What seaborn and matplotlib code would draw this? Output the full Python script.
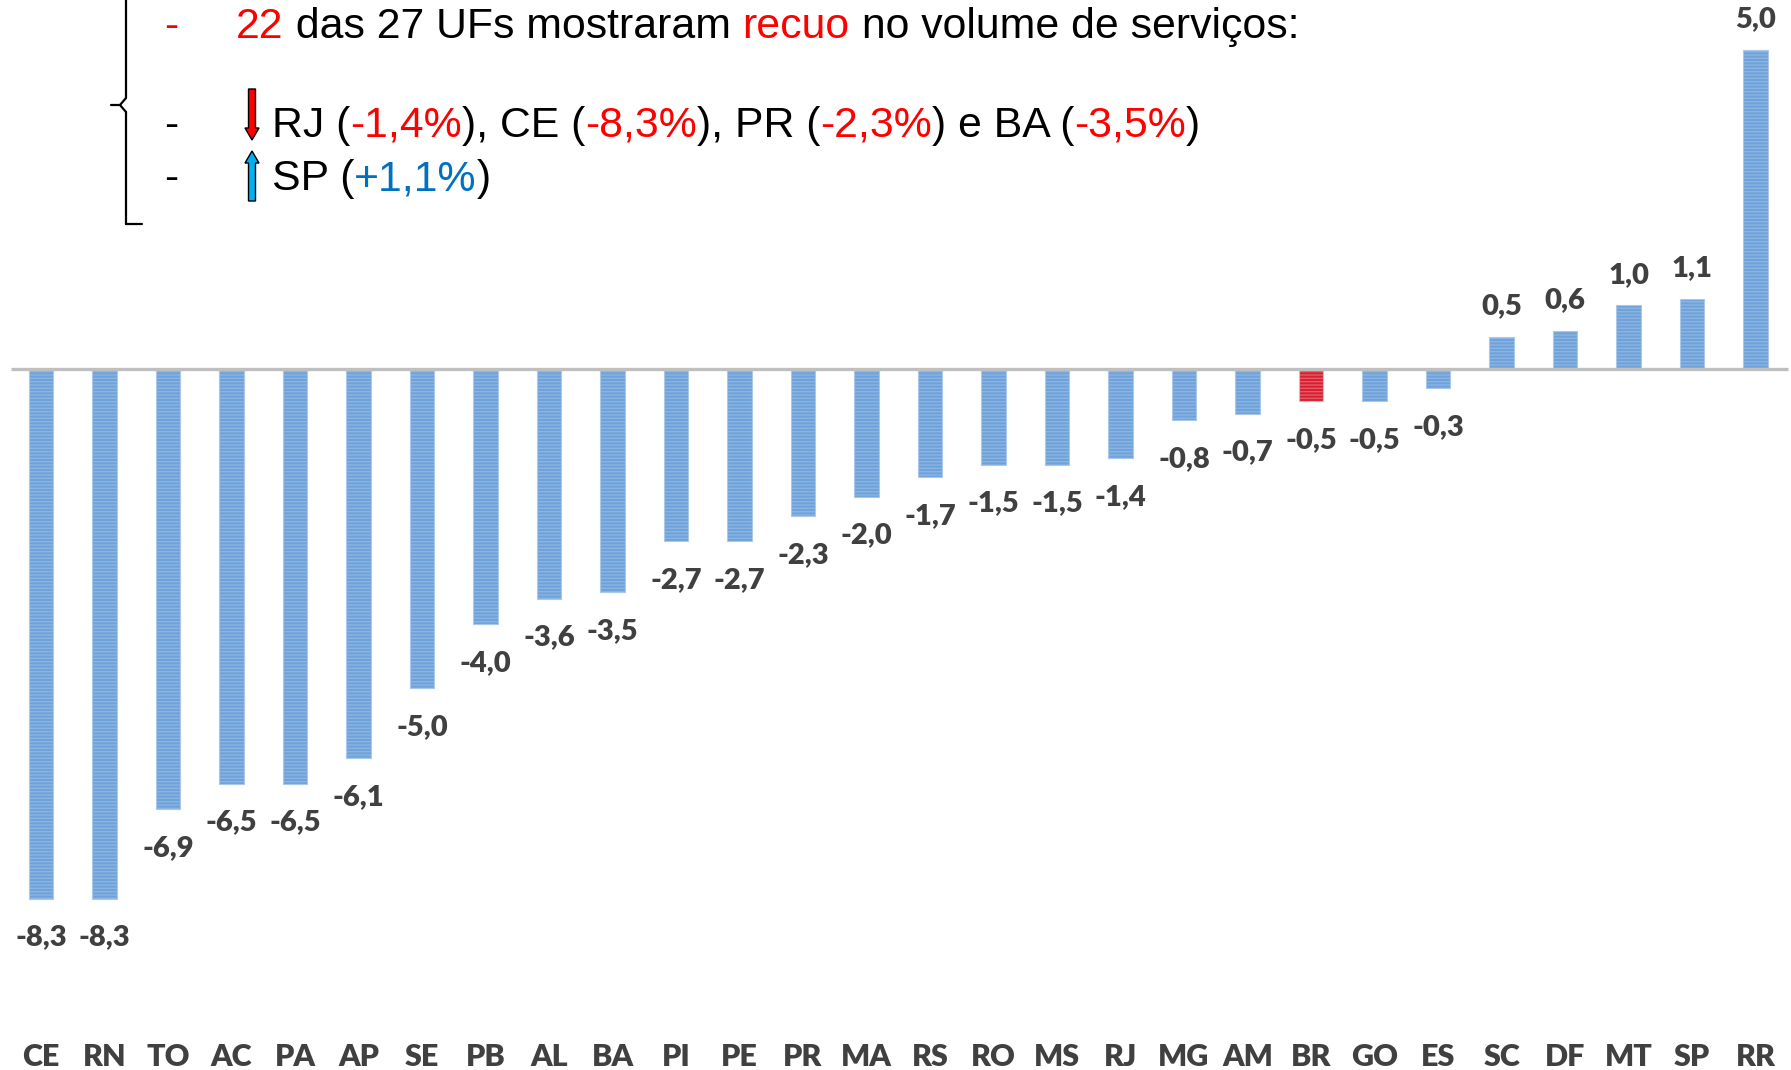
import matplotlib
matplotlib.use("Agg")
import matplotlib.pyplot as plt
import seaborn as sns
import pandas as pd
from matplotlib.patches import FancyArrow

ufs = ["CE", "RN", "TO", "AC", "PA", "AP", "SE", "PB", "AL", "BA", "PI", "PE", "PR", "MA",
       "RS", "RO", "MS", "RJ", "MG", "AM", "BR", "GO", "ES", "SC", "DF", "MT", "SP", "RR"]
valores = [-8.3, -8.3, -6.9, -6.5, -6.5, -6.1, -5.0, -4.0, -3.6, -3.5, -2.7, -2.7, -2.3, -2.0,
           -1.7, -1.5, -1.5, -1.4, -0.8, -0.7, -0.5, -0.5, -0.3, 0.5, 0.6, 1.0, 1.1, 5.0]

BLUE = "#6FA2DA"
RED = "#D7202F"
LABEL = "#404040"

sns.set_theme(style="white")
plt.rcParams["font.family"] = ["Lato", "DejaVu Sans"]

W, H = 1791, 1070
fig = plt.figure(figsize=(W / 100, H / 100), dpi=100)

ax_bottom_px = 35
ax = fig.add_axes([0, ax_bottom_px / H, 1, (H - ax_bottom_px) / H])

df = pd.DataFrame({"uf": ufs, "valor": valores})
palette = {u: (RED if u == "BR" else BLUE) for u in ufs}
sns.barplot(data=df, x="uf", y="valor", hue="uf", palette=palette, order=ufs,
            width=0.39, legend=False, ax=ax, saturation=1,
            edgecolor="#A9C8EA", linewidth=0.8)
for p in ax.patches:
    p.set_hatch("-----")
    p._hatch_color = matplotlib.colors.to_rgba("#8AB4E2" if p.get_facecolor()[0] < 0.6 else "#E65A66")

px_per_unit = 63.8
base_px = 369
x0_px, dx_px = 41, 63.5
ax.set_ylim((base_px - (H - ax_bottom_px)) / px_per_unit, base_px / px_per_unit)
ax.set_xlim(-x0_px / dx_px, (W - x0_px) / dx_px)

ax.plot([(11 - x0_px) / dx_px, (1788 - x0_px) / dx_px], [0, 0], color="#BFBFBF",
        lw=2.4, solid_capstyle="butt", zorder=3)

for i, v in enumerate(valores):
    txt = f"{v:.1f}".replace(".", ",")
    off = 22 if v > 0 else -28
    ax.annotate(txt, (i, v), xytext=(0, off), textcoords="offset points",
                ha="center", va="center", fontsize=21, fontweight="heavy", color=LABEL)

ax.set_xlabel("")
ax.set_ylabel("")
ax.set_yticks([])
ax.tick_params(axis="x", length=0, pad=6, labelsize=22, labelcolor=LABEL)
for t in ax.get_xticklabels():
    t.set_fontweight("heavy")
for s in ax.spines.values():
    s.set_visible(False)

ov = fig.add_axes([0, 0, 1, 1], facecolor="none")
ov.set_xlim(0, W)
ov.set_ylim(H, 0)
ov.axis("off")

# brace
ov.plot([126, 126], [0, 98], color="black", lw=1.6)
ov.plot([126, 126], [112, 224], color="black", lw=1.6)
ov.plot([126, 142], [224, 224], color="black", lw=1.6)
ov.plot([111, 120, 126], [105, 105, 98], color="black", lw=1.6)
ov.plot([120, 126], [105, 112], color="black", lw=1.6)

FS = 30.8
TF = ["Liberation Sans", "DejaVu Sans"]
renderer = fig.canvas.get_renderer()


def runs(x, y, parts):
    for s, c in parts:
        t = ov.text(x, y, s, color=c, fontsize=FS, family=TF, va="center", ha="left")
        bb = t.get_window_extent(renderer=renderer)
        x += bb.width


y1, y2, y3 = 27, 126, 179
ov.text(171, y1, "-", color="red", fontsize=FS, family=TF, va="center", ha="center")
ov.text(171, y2, "-", color="black", fontsize=FS, family=TF, va="center", ha="center")
ov.text(171, y3, "-", color="black", fontsize=FS, family=TF, va="center", ha="center")

runs(236, y1, [("22", "red"), (" das 27 UFs mostraram ", "black"), ("recuo", "red"),
               (" no volume de serviços:", "black")])
runs(272, y2, [("RJ (", "black"), ("-1,4%", "red"), ("), CE (", "black"), ("-8,3%", "red"),
               ("), PR (", "black"), ("-2,3%", "red"), (") e BA (", "black"),
               ("-3,5%", "red"), (")", "black")])
runs(272, y3, [("SP (", "black"), ("+1,1%", "#0070C0"), (")", "black")])

ov.add_patch(FancyArrow(252, 89, 0, 51, width=7, head_width=14, head_length=12,
                        length_includes_head=True, facecolor="#FF0000", edgecolor="black", lw=1))
ov.add_patch(FancyArrow(252, 201, 0, -50, width=7, head_width=14, head_length=12,
                        length_includes_head=True, facecolor="#00B0F0", edgecolor="black", lw=1))

fig.savefig("out.png", dpi=100)
